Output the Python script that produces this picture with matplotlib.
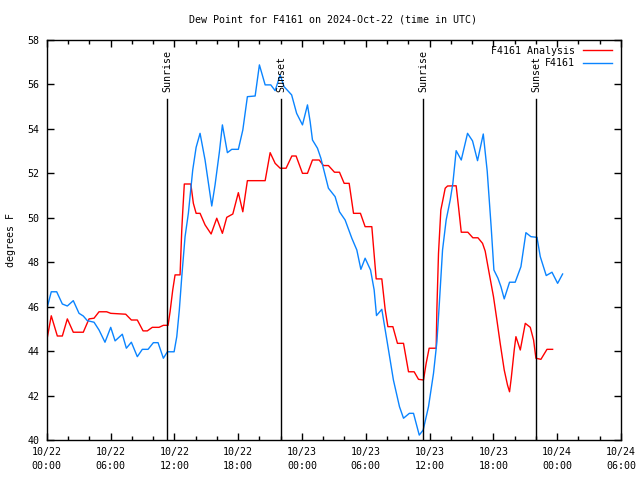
import matplotlib
matplotlib.use("Agg")
import matplotlib.pyplot as plt
from matplotlib.ticker import MultipleLocator, FixedLocator

# hours since 2024-10-22 00:00 UTC
obs_hours = [0.0, 0.43, 0.94, 1.47, 1.94, 2.5, 3.04, 3.44, 3.82, 4.45, 4.92, 5.48, 6.02, 6.43,
             7.11, 7.49, 7.96, 8.52, 8.99, 9.53, 10.03, 10.47, 10.97, 11.35, 11.98, 12.23, 12.47,
             12.7, 13.01, 13.32, 13.73, 14.05, 14.42, 14.89, 15.52, 15.83, 16.24, 16.52, 16.99,
             17.4, 18.02, 18.44, 18.87, 19.6, 20.0, 20.54, 21.07, 21.48, 21.95, 22.32, 23.03,
             23.5, 24.05, 24.52, 24.77, 24.99, 25.46, 25.78, 26.49, 27.12, 27.53, 28.06, 28.69,
             29.16, 29.54, 29.94, 30.45, 30.79, 31.01, 31.51, 32.02, 32.6, 33.17, 33.55, 34.1,
             34.49, 35.03, 35.4, 35.9, 36.37, 36.69, 36.9, 37.22, 37.56, 37.94, 38.19, 38.5,
             38.98, 39.57, 40.04, 40.51, 41.05, 41.42, 41.79, 42.05, 42.43, 42.71, 43.02, 43.52,
             44.05, 44.59, 45.06, 45.53, 46.1, 46.41, 46.97, 47.51, 48.04, 48.51]
obs_dewpt = [45.88, 46.67, 46.67, 46.12, 46.03, 46.27, 45.70, 45.58, 45.37, 45.30, 44.95, 44.40,
             45.07, 44.46, 44.76, 44.13, 44.40, 43.75, 44.08, 44.08, 44.38, 44.38, 43.68, 43.97,
             43.97, 44.65, 45.85, 47.35, 49.15, 50.2, 52.15, 53.17, 53.8, 52.6, 50.53, 51.48,
             52.97, 54.18, 52.93, 53.08, 53.08, 53.95, 55.45, 55.48, 56.88, 55.98, 55.98, 55.72,
             56.43, 55.9, 55.53, 54.7, 54.18, 55.08, 54.33, 53.5, 53.13, 52.68, 51.33, 50.95,
             50.27, 49.9, 49.08, 48.55, 47.68, 48.18, 47.65, 46.75, 45.6, 45.88, 44.4, 42.7,
             41.5, 40.98, 41.2, 41.2, 40.22, 40.45, 41.5, 43.0, 44.42, 46.0, 48.55, 49.9, 50.8,
             51.55, 53.02, 52.6, 53.8, 53.46, 52.57, 53.77, 52.1, 49.6, 47.65, 47.28, 46.9,
             46.35, 47.1, 47.1, 47.8, 49.33, 49.15, 49.12, 48.25, 47.4, 47.55, 47.05, 47.47]

ana_hours = [0.0, 0.43, 1.0, 1.47, 1.94, 2.5, 3.44, 3.98, 4.45, 4.92, 5.64, 6.02, 7.43, 7.96,
             8.52, 9.06, 9.46, 9.93, 10.56, 10.97, 11.41, 11.6, 11.85, 12.07, 12.54, 12.7, 12.79,
             12.94, 13.55, 13.79, 14.05, 14.42, 14.89, 15.46, 15.99, 16.52, 16.93, 17.5, 18.02,
             18.44, 18.87, 20.54, 21.01, 21.48, 21.95, 22.51, 23.05, 23.45, 24.05, 24.52, 24.99,
             25.62, 26.02, 26.49, 27.06, 27.53, 27.97, 28.44, 28.85, 29.5, 29.94, 30.57, 30.98,
             31.51, 31.83, 32.08, 32.55, 32.98, 33.55, 34.02, 34.55, 34.96, 35.43, 35.68, 35.96,
             36.62, 36.69, 36.84, 37.06, 37.25, 37.47, 37.69, 38.5, 38.72, 38.98, 39.6, 40.07,
             40.55, 40.98, 41.23, 41.55, 42.01, 42.33, 42.64, 43.02, 43.33, 43.52, 43.68, 43.96,
             44.12, 44.53, 45.0, 45.47, 45.78, 46.0, 46.47, 47.04, 47.57]
ana_dewpt = [44.46, 45.59, 44.68, 44.68, 45.45, 44.85, 44.85, 45.45, 45.48, 45.77, 45.77, 45.70,
             45.66, 45.4, 45.4, 44.91, 44.91, 45.07, 45.07, 45.16, 45.16, 45.77, 46.75, 47.43,
             47.43, 49.45, 50.27, 51.52, 51.52, 50.65, 50.2, 50.2, 49.68, 49.27, 49.98, 49.3,
             50.02, 50.17, 51.13, 50.27, 51.67, 51.67, 52.93, 52.45, 52.23, 52.23, 52.78, 52.78,
             52.0, 52.0, 52.6, 52.6, 52.35, 52.35, 52.05, 52.05, 51.55, 51.55, 50.2, 50.2, 49.6,
             49.6, 47.25, 47.25, 45.85, 45.1, 45.1, 44.35, 44.35, 43.07, 43.07, 42.73, 42.7,
             43.45, 44.13, 44.13, 45.93, 48.4, 50.35, 50.8, 51.33, 51.43, 51.44, 50.5, 49.35,
             49.35, 49.1, 49.1, 48.85, 48.5, 47.65, 46.45, 45.4, 44.35, 43.15, 42.47, 42.17,
             42.78, 44.05, 44.65, 44.05, 45.25, 45.07, 44.5, 43.68, 43.63, 44.08, 44.08]

sun_hours = [11.35, 22.05, 35.42, 46.05]
sun_labels = ["Sunrise", "Sunset", "Sunrise", "Sunset"]

tick_hours = [0, 6, 12, 18, 24, 30, 36, 42, 48, 54]
tick_labels = ["10/22\n00:00", "10/22\n06:00", "10/22\n12:00", "10/22\n18:00",
               "10/23\n00:00", "10/23\n06:00", "10/23\n12:00", "10/23\n18:00",
               "10/24\n00:00", "10/24\n06:00"]

FONT = "DejaVu Sans Mono"
FS = 7.2
plt.rcParams['font.family'] = [FONT]
plt.rcParams['font.size'] = FS

fig = plt.figure(figsize=(6.4, 4.8), dpi=100)
ax = fig.add_axes([46.7 / 640, 40 / 480, (621 - 46.7) / 640, 400 / 480])

ax.plot(ana_hours, ana_dewpt, color="#ff0000", lw=1.0, label="F4161 Analysis")
ax.plot(obs_hours, obs_dewpt, color="#0a84ff", lw=1.0, label="F4161")

line_top = (440 - 99) / 400
for h, lab in zip(sun_hours, sun_labels):
    ax.axvline(h, ymin=0, ymax=line_top, color="black", lw=1.0)
    ax.text(h, line_top + 0.017, lab, rotation=90, ha="center", va="bottom",
            transform=ax.get_xaxis_transform(), fontsize=FS)

ax.set_xlim(0, 54)
ax.set_ylim(40, 58)
ax.xaxis.set_major_locator(FixedLocator(tick_hours))
ax.set_xticklabels(tick_labels, linespacing=1.45)
ax.xaxis.set_minor_locator(MultipleLocator(2))
ax.yaxis.set_major_locator(MultipleLocator(2))
ax.tick_params(axis="both", which="both", direction="in", top=True, right=True,
               width=1.0, color="black")
ax.tick_params(axis="both", which="major", length=5)
ax.tick_params(axis="both", which="minor", length=3)
ax.tick_params(axis="x", which="major", pad=5)
ax.tick_params(axis="y", which="major", pad=5)
for sp in ax.spines.values():
    sp.set_linewidth(1.0)
    sp.set_color("black")

leg = ax.legend(loc="upper right", bbox_to_anchor=(612 / 640, 1 - 45.5 / 480),
                bbox_transform=fig.transFigure, frameon=False, markerfirst=False,
                handlelength=2.9, handletextpad=0.8, labelspacing=0.3,
                borderaxespad=0, borderpad=0, fontsize=FS)

fig.text(333 / 640, 1 - 20 / 480, "Dew Point for F4161 on 2024-Oct-22 (time in UTC)",
         ha="center", va="center", fontsize=FS)
fig.text(11 / 640, 0.5, "degrees F", rotation=90, ha="center", va="center", fontsize=FS)

fig.savefig("out.png", dpi=100)
